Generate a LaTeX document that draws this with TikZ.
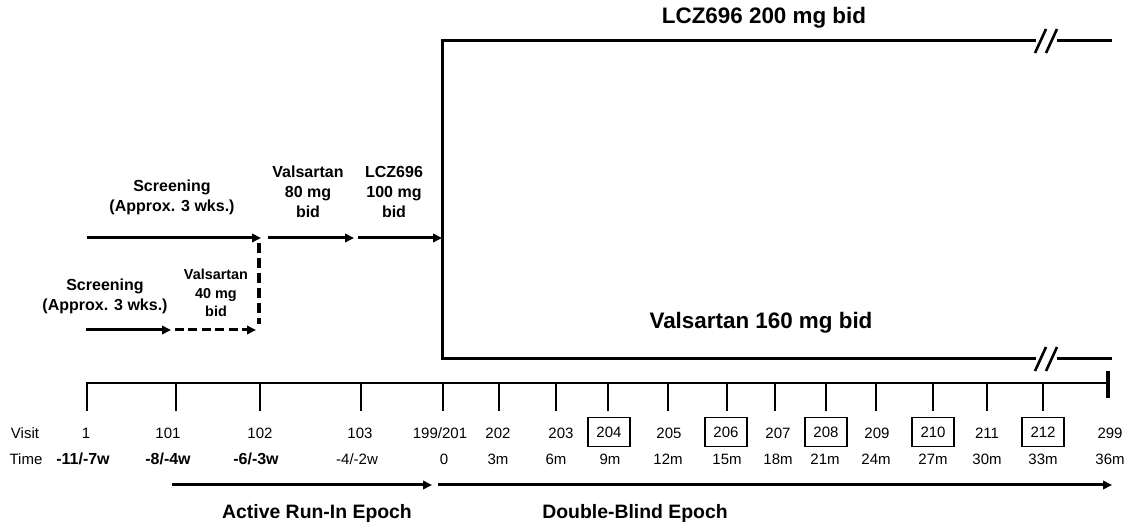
\documentclass[tikz,border=0pt]{standalone}
\usepackage{fontspec}
\setmainfont{Liberation Sans}
\usetikzlibrary{arrows.meta,positioning}

\begin{document}
\begin{tikzpicture}[
  x=0.5pt, y=-0.5pt,
  title/.style={font=\bfseries\fontsize{11.2}{13}\selectfont, inner sep=0pt},
  phase/.style={font=\bfseries\fontsize{8}{10}\selectfont, align=center, inner sep=0pt},
  small/.style={font=\bfseries\fontsize{7.2}{9.3}\selectfont, align=center, inner sep=0pt},
  visit/.style={font=\fontsize{7.5}{9}\selectfont, inner sep=0pt},
  wk/.style={font=\bfseries\fontsize{8}{9}\selectfont, inner sep=0pt},
  mo/.style={font=\fontsize{7.5}{9}\selectfont, inner sep=0pt},
  boxed/.style={visit, draw, line width=0.7pt, minimum width=21pt, minimum height=14.5pt},
  epoch/.style={font=\bfseries\fontsize{9.7}{11}\selectfont, inner sep=0pt},
  arm/.style={line width=1.5pt},
  arr/.style={-{Triangle[length=4.5pt,width=4.2pt]}, line width=1.5pt},
  tick/.style={line width=1pt}
]
\useasboundingbox (0,0) rectangle (1129,528);

% treatment arms
\coordinate (split) at (442,238);
\coordinate (topL) at (442,41);
\coordinate (botL) at (442,359);
\coordinate (topbrk) at (1036,41);
\coordinate (botbrk) at (1036,359);
\draw[arm] (topbrk) -- (topL) -- (botL) -- (botbrk);
\foreach \y in {41,359} {
  \draw[arm] (1057,\y) -- (1112,\y);
  \draw[line width=1.3pt] (1035,\y+12) -- (1046,\y-12);
  \draw[line width=1.3pt] (1046,\y+12) -- (1057,\y-12);
}
\node[title] (lczarm) at (764,18) {LCZ696 200 mg bid};
\node[title] (valarm) at (761,323) {Valsartan 160 mg bid};

% run-in steps
\node[phase] (scr1) at (172,197) {Screening\\(Approx. 3 wks.)};
\node[phase] (val80) at (308,192) {Valsartan\\80 mg\\bid};
\node[phase] (lcz100) at (394,192) {LCZ696\\100 mg\\bid};
\node[phase] (scr2) at (105,296) {Screening\\(Approx. 3 wks.)};
\node[small] (val40) at (216,293) {Valsartan\\40 mg\\bid};

\coordinate (s1a) at (87,238);
\coordinate (s1b) at (261,238);
\coordinate (v80a) at (268,238);
\coordinate (v80b) at (354,238);
\coordinate (l100a) at (358,238);
\coordinate (s2a) at (86,330);
\coordinate (s2b) at (171,330);
\coordinate (v40a) at (175,330);
\coordinate (v40b) at (256,330);
\coordinate (dsh1) at (259,243);
\coordinate (dsh2) at (259,324);

\draw[arr] (s1a) -- (s1b);
\draw[arr] (v80a) -- (v80b);
\draw[arr] (l100a) -- (split);
\draw[arr] (s2a) -- (s2b);
\draw[arr, dash pattern=on 4.5pt off 2.2pt] (v40a) -- (v40b);
\draw[line width=1.6pt, dash pattern=on 5pt off 2.5pt] (dsh1) -- (dsh2);

% visit timeline
\draw[tick] (87,411) -- (87,383) -- (1108,383);
\draw[line width=1.8pt] (1108,371) -- (1108,398);
\foreach \x in {176,260,361,443,499,556,608,668,727,775,826,876,933,987,1043}
  \draw[tick] (\x,383) -- (\x,411);

\node[visit] (visitlbl) at (25,433) {Visit};
\node[visit] (timelbl) at (26,459) {Time};
\foreach \x/\lab [count=\i] in {86/1,168/101,260/102,360/103,440/{199/201},498/202,561/203,669/205,778/207,877/209,987/211,1110/299}
  \node[visit] (visit\i) at (\x,433) {\lab};
\foreach \x/\lab in {609/204,726/206,826/208,933/210,1043/212}
  \node[boxed] (box\lab) at (\x,432) {\lab};
\foreach \x/\lab [count=\i] in {83/{-11/-7w},168/{-8/-4w},256/{-6/-3w}}
  \node[wk] (wk\i) at (\x,459) {\lab};
\foreach \x/\lab [count=\i] in {357/{-4/-2w},444/0,498/3m,556/6m,610/9m,668/12m,727/15m,778/18m,825/21m,876/24m,933/27m,987/30m,1043/33m,1110/36m}
  \node[mo] (mo\i) at (\x,459) {\lab};

% epochs
\coordinate (runA) at (172,485);
\coordinate (runB) at (432,485);
\coordinate (dbA) at (438,485);
\coordinate (dbB) at (1112,485);
\draw[arr] (runA) -- (runB);
\draw[arr] (dbA) -- (dbB);
\node[epoch] (runin) at (317,513) {Active Run-In Epoch};
\node[epoch] (dblind) at (635,513) {Double-Blind Epoch};
\end{tikzpicture}
\end{document}
